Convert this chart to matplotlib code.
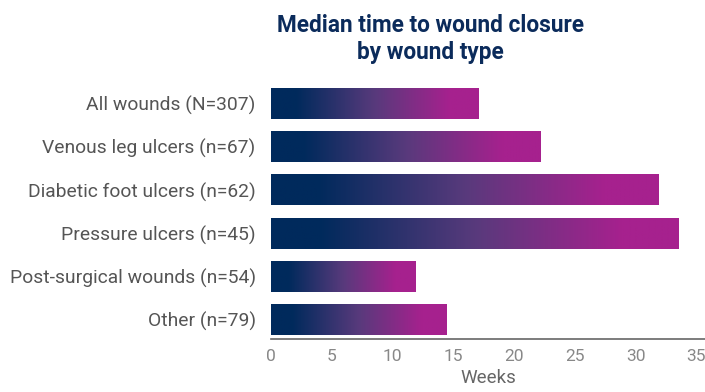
import numpy as np
import matplotlib
matplotlib.use('Agg')
import matplotlib.pyplot as plt
from matplotlib.colors import LinearSegmentedColormap

plt.rcParams['font.family'] = ['Roboto', 'DejaVu Sans']

# data
categories = ['All wounds (N=307)', 'Venous leg ulcers (n=67)',
              'Diabetic foot ulcers (n=62)', 'Pressure ulcers (n=45)',
              'Post-surgical wounds (n=54)', 'Other (n=79)']
weeks = [17.1, 22.2, 31.9, 33.5, 11.85, 14.4]
xticks = [0, 5, 10, 15, 20, 25, 30, 35]

navy = '#002a5c'
magenta = '#a6218e'
cmap = LinearSegmentedColormap.from_list(
    'wound', [(0.0, navy), (0.12, navy), (0.5, '#583a7c'), (0.86, magenta), (1.0, magenta)])

fig = plt.figure(figsize=(7.05, 3.92), dpi=100)
ax = fig.add_axes([271 / 705, 53 / 392, 1 - 271 / 705, 255 / 392])

ypos = np.arange(len(categories))
bars = ax.barh(ypos, weeks, height=0.72, color='none')

# gradient fill, stretched along each bar
grad = np.linspace(0, 1, 256).reshape(1, -1)
for b in bars:
    x0, y0 = b.get_x(), b.get_y()
    im = ax.imshow(grad, cmap=cmap, aspect='auto', interpolation='bilinear',
                   extent=[x0, x0 + b.get_width(), y0 + b.get_height(), y0],
                   zorder=2)
    im.set_clip_path(b)

ax.set_xlim(0, 35.7)
ax.set_ylim(5.45, -0.45)
ax.set_yticks(ypos)
ax.set_yticklabels(categories, fontsize=13.9, color='#555555')
ax.set_xticks(xticks)
ax.set_xticklabels([str(t) for t in xticks], fontsize=12.5, color='#888888')
ax.tick_params(length=0, pad=7)
ax.tick_params(axis='y', pad=11)

for s in ['top', 'right', 'left']:
    ax.spines[s].set_visible(False)
ax.spines['bottom'].set_color('#666666')
ax.spines['bottom'].set_linewidth(1.2)

ax.set_xlabel('Weeks', fontsize=13.5, color='#666666', labelpad=4)

fig.text(0.61, 0.965, 'Median time to wound closure\nby wound type',
         ha='center', va='top', fontsize=16.3, fontweight='bold',
         color='#0b2b5b', linespacing=1.25)

fig.savefig('out.png', dpi=100)
